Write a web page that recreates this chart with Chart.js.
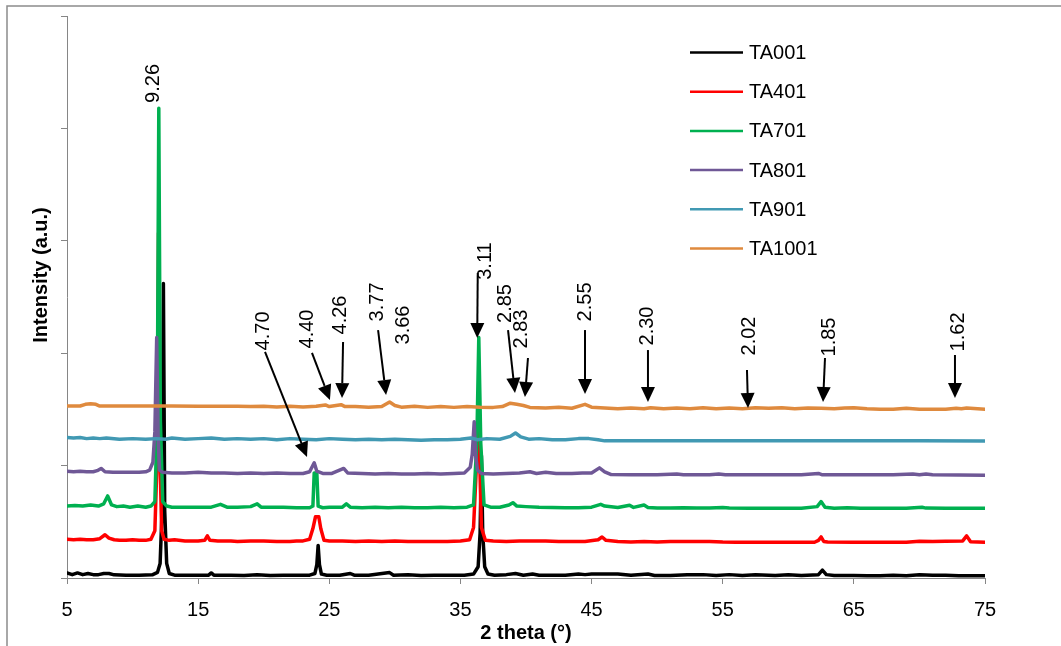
<!DOCTYPE html>
<html>
<head>
<meta charset="utf-8">
<script src="https://cdn.jsdelivr.net/npm/chart.js@4.4.1/dist/chart.umd.min.js"></script>
<style>
    body { margin: 0; background: #ffffff; }
    #wrap { width: 1061px; height: 646px; position: relative; }
</style>
</head>
<body>
<div id="wrap"><canvas id="xrdChart"></canvas></div>
<script>
// 2 theta ticks
const xTicks = [5, 15, 25, 35, 45, 55, 65, 75];

const seriesNames = ["TA001", "TA401", "TA701", "TA801", "TA901", "TA1001"];
const seriesColors = ["#000000", "#ff0000", "#00b050", "#6f5896", "#4199b3", "#df8a3e"];

// [2theta, intensity]
const ta001 = [
    [5, 45], [5.4, 30], [5.8, 45], [6.2, 30], [6.6, 40], [7, 30], [7.4, 30], [7.8, 40], [8.2, 40], [8.6, 28],
    [9.5, 25], [10.5, 25], [11.5, 28], [11.9, 50], [12.1, 130], [12.25, 600], [12.35, 2620], [12.45, 600],
    [12.6, 130], [12.8, 40], [13.2, 25], [14.5, 25], [15.8, 25], [16.0, 45], [16.2, 25], [17.5, 25], [18.5, 22],
    [19.5, 28], [20.5, 22], [21.5, 25], [22.5, 25], [23.5, 25], [23.9, 40], [24.05, 120], [24.15, 290],
    [24.25, 120], [24.4, 35], [24.8, 25], [25.8, 25], [26.6, 40], [26.9, 25], [28, 25], [29.6, 48], [29.9, 25],
    [31, 28], [32, 22], [33, 25], [34, 25], [35.3, 25], [36.0, 35], [36.35, 100], [36.5, 400], [36.6, 1090],
    [36.7, 400], [36.85, 100], [37.1, 35], [37.6, 25], [38.5, 30], [39.2, 40], [39.8, 25], [40.5, 35], [41, 25],
    [42, 25], [43, 25], [44.0, 35], [44.5, 30], [45, 35], [46, 35], [47, 35], [48, 25], [49.3, 35], [49.8, 22],
    [51, 22], [52.3, 30], [53.5, 30], [54.5, 22], [55.5, 30], [56.5, 22], [57.5, 28], [59, 22], [60, 28],
    [61, 22], [62.3, 30], [62.6, 70], [62.9, 30], [63.5, 22], [65, 22], [66, 20], [67, 20], [68, 25], [69, 20],
    [70, 28], [71, 25], [72, 25], [73, 20], [74, 20], [75, 20]
];

const ta401 = [
    [5, 345], [5.5, 340], [6, 345], [6.5, 340], [7, 340], [7.5, 350], [7.9, 385], [8.2, 355], [8.6, 340],
    [9, 335], [9.5, 335], [10, 340], [10.5, 335], [11, 335], [11.4, 345], [11.7, 420], [11.88, 1100],
    [11.98, 3070], [12.08, 1100], [12.22, 420], [12.4, 345], [12.8, 335], [13.2, 340], [14, 330], [15, 330],
    [15.5, 335], [15.7, 375], [15.9, 335], [16.5, 330], [17.5, 330], [18, 325], [19, 330], [20, 330], [21, 325],
    [22, 325], [22.5, 330], [23, 330], [23.5, 345], [23.75, 440], [23.95, 545], [24.2, 545], [24.35, 440],
    [24.6, 335], [25, 330], [26, 330], [27, 325], [28, 330], [29, 325], [30, 330], [31, 325], [32, 325],
    [33, 325], [34, 325], [35, 330], [35.7, 340], [36.0, 450], [36.22, 1000], [36.36, 1430], [36.48, 1000],
    [36.6, 450], [36.9, 335], [37.5, 330], [38.5, 325], [39.5, 330], [40.5, 330], [41.5, 330], [42.5, 325],
    [43.5, 325], [44.5, 325], [45.5, 340], [45.8, 365], [46.1, 335], [47, 325], [48, 320], [49, 325], [50, 320],
    [51, 325], [52, 325], [53, 325], [54, 325], [55, 320], [56, 318], [58, 318], [60, 318], [62, 318],
    [62.3, 335], [62.5, 365], [62.7, 325], [63, 320], [65, 318], [67, 318], [69, 318], [70, 328], [71, 325],
    [72, 328], [73.3, 330], [73.6, 375], [73.9, 322], [75, 318]
];

const ta701 = [
    [5, 640], [5.6, 645], [6.2, 640], [6.8, 650], [7.4, 640], [7.8, 660], [8.1, 730], [8.4, 650], [8.8, 635],
    [9.3, 640], [9.8, 630], [10.4, 640], [11, 630], [11.4, 640], [11.7, 680], [11.88, 1400], [12.0, 4180],
    [12.12, 1400], [12.3, 680], [12.6, 640], [13, 630], [14, 630], [15, 630], [16, 630], [16.7, 655],
    [17.2, 630], [18, 630], [19, 635], [19.5, 660], [19.8, 630], [20.5, 630], [21.5, 630], [22.5, 625],
    [23.5, 625], [23.75, 640], [23.85, 935], [24.05, 935], [24.15, 640], [24.5, 625], [25, 630], [26, 630],
    [26.3, 660], [26.6, 630], [27.5, 625], [28.5, 630], [29.5, 625], [30.5, 630], [31.5, 625], [32.5, 625],
    [33.5, 630], [34.5, 625], [35.5, 630], [36.0, 650], [36.25, 1200], [36.4, 2140], [36.55, 1200],
    [36.8, 650], [37.3, 630], [38, 630], [38.7, 650], [39.0, 670], [39.3, 640], [40, 635], [41, 630],
    [42, 628], [43, 625], [44, 625], [45, 630], [45.7, 655], [46, 640], [47, 628], [47.9, 648], [48.2, 628],
    [49.0, 650], [49.3, 628], [50, 622], [51, 622], [52, 625], [53, 622], [54, 622], [55, 628], [55.5, 622],
    [57, 620], [59, 620], [61, 620], [62.2, 635], [62.5, 680], [62.8, 630], [63.5, 620], [64.5, 625],
    [65.5, 620], [67, 620], [69, 620], [70.2, 630], [70.5, 622], [72, 620], [75, 620]
];

const ta801 = [
    [5, 950], [5.5, 945], [6, 950], [6.5, 945], [7, 945], [7.3, 955], [7.6, 975], [7.9, 945], [8.5, 940],
    [9.5, 940], [10.5, 940], [11.0, 945], [11.3, 960], [11.55, 1030], [11.7, 1300], [11.84, 2140],
    [11.95, 1250], [12.05, 960], [12.3, 940], [13, 935], [14, 935], [15, 940], [16, 935], [17, 935],
    [18, 930], [19, 935], [20, 930], [21, 935], [22, 930], [23, 930], [23.5, 945], [23.85, 1025],
    [24.05, 950], [24.5, 930], [25.2, 930], [26.1, 975], [26.4, 935], [27.5, 930], [28.5, 925], [29.5, 930],
    [30.5, 925], [31.5, 925], [32.5, 930], [33.5, 925], [34.5, 930], [35.3, 935], [35.75, 985], [35.9, 1100],
    [36.05, 1390], [36.15, 1100], [36.3, 960], [36.6, 930], [37.5, 925], [38.5, 930], [39.5, 935],
    [40.3, 945], [40.8, 930], [41.5, 940], [42.3, 930], [43.5, 930], [44.3, 935], [45, 935], [45.6, 980],
    [46, 945], [46.5, 920], [48, 918], [50, 918], [51.5, 925], [52, 918], [54, 918], [54.7, 925],
    [55.2, 918], [58, 918], [61, 918], [62.3, 930], [62.6, 918], [65, 918], [68, 918], [69.5, 925],
    [70, 918], [70.5, 925], [71, 918], [75, 915]
];

const ta901 = [
    [5, 1250], [5.5, 1245], [6, 1250], [6.5, 1240], [7, 1245], [7.5, 1240], [8, 1245], [9, 1235], [10, 1240],
    [11, 1235], [11.8, 1240], [12.5, 1235], [13, 1245], [14, 1235], [15, 1240], [16, 1245], [17, 1235],
    [18, 1240], [19, 1235], [20, 1240], [21, 1230], [22, 1240], [23, 1235], [24, 1230], [25, 1240],
    [26, 1235], [27, 1230], [28, 1235], [29, 1230], [30, 1235], [31, 1230], [32, 1225], [33, 1230],
    [34, 1230], [35, 1235], [35.8, 1245], [36.3, 1230], [37, 1240], [38, 1235], [38.8, 1260], [39.2, 1290],
    [39.6, 1255], [40.2, 1235], [41, 1240], [42, 1230], [43, 1230], [44, 1240], [44.8, 1240], [45.5, 1230],
    [46, 1220], [50, 1220], [60, 1220], [70, 1220], [75, 1219]
];

const ta1001 = [
    [5, 1530], [6, 1530], [6.4, 1545], [6.8, 1550], [7.2, 1545], [7.5, 1530], [9, 1530], [11, 1530],
    [13, 1530], [15, 1528], [18, 1528], [19, 1525], [20, 1528], [21, 1522], [22, 1528], [23, 1522],
    [24, 1528], [24.7, 1540], [25, 1525], [25.9, 1542], [26.2, 1525], [27, 1525], [28, 1520], [29, 1525],
    [29.6, 1565], [30, 1535], [30.5, 1520], [31.5, 1528], [32.5, 1518], [33.5, 1525], [34.5, 1518],
    [35.5, 1525], [36.5, 1520], [37.5, 1518], [38.2, 1525], [38.8, 1555], [39.3, 1545], [39.8, 1535],
    [40.3, 1518], [41.5, 1512], [42.5, 1520], [43.5, 1510], [44.5, 1545], [45, 1520], [46, 1512], [47, 1505],
    [48, 1512], [49, 1505], [49.5, 1515], [50.5, 1505], [51.5, 1512], [52.5, 1505], [53.5, 1515],
    [54.5, 1505], [55.5, 1512], [56.5, 1505], [57.5, 1515], [58.5, 1510], [59.5, 1515], [60.5, 1505],
    [61.5, 1512], [62.5, 1510], [63.5, 1505], [64.3, 1512], [65, 1515], [66, 1505], [67, 1502], [68, 1502],
    [69, 1510], [70, 1502], [72, 1502], [72.8, 1510], [73.2, 1505], [73.6, 1512], [75, 1502]
];

const allSeries = [ta001, ta401, ta701, ta801, ta901, ta1001];

// d-spacing labels: label centre and arrow in (2theta, intensity)
const peakNotes = [
    { text: "9.26", tx: 11.56, ty: 4400 },
    { text: "4.70", tx: 20.0, ty: 2198, from: [20.10, 2011], to: [23.30, 1077] },
    { text: "4.40", tx: 23.30, ty: 2215, from: [23.68, 2002], to: [25.05, 1584] },
    { text: "4.26", tx: 25.82, ty: 2340, from: [26.05, 2100], to: [25.97, 1601] },
    { text: "3.77", tx: 28.64, ty: 2456, from: [28.72, 2206], to: [29.33, 1628] },
    { text: "3.66", tx: 30.62, ty: 2251 },
    { text: "3.11", tx: 36.91, ty: 2820, from: [36.32, 2714], to: [36.28, 2135] },
    { text: "2.85", tx: 38.40, ty: 2442, from: [38.63, 2206], to: [39.16, 1646] },
    { text: "2.83", tx: 39.66, ty: 2215, from: [40.15, 1957], to: [39.92, 1610] },
    { text: "2.55", tx: 44.50, ty: 2456, from: [44.50, 2206], to: [44.50, 1637] },
    { text: "2.30", tx: 49.23, ty: 2242, from: [49.30, 2028], to: [49.30, 1566] },
    { text: "2.02", tx: 57.01, ty: 2153, from: [56.85, 1851], to: [56.93, 1512] },
    { text: "1.85", tx: 63.11, ty: 2144, from: [62.80, 1957], to: [62.65, 1566] },
    { text: "1.62", tx: 72.94, ty: 2189, from: [72.71, 1984], to: [72.71, 1601] }
];

const FONT = "'Liberation Sans', Arial, sans-serif";
const AXIS_GREY = "#868686";

// outer frame, y title, legend and the d-spacing arrows
const extrasPlugin = {
    id: "extras",
    beforeDraw: function (chart) {
        const ctx = chart.ctx;
        ctx.save();
        ctx.strokeStyle = "#8c8c8c";
        ctx.lineWidth = 1.5;
        ctx.strokeRect(7, 6, chart.width + 20, chart.height + 20);
        ctx.restore();
    },
    afterDraw: function (chart) {
        const ctx = chart.ctx;
        const xs = chart.scales.x;
        const ys = chart.scales.y;

        ctx.save();
        ctx.fillStyle = "#000";
        ctx.textAlign = "center";
        ctx.textBaseline = "middle";

        // y title
        ctx.save();
        ctx.translate(41, 275);
        ctx.rotate(-Math.PI / 2);
        ctx.font = "bold 20px " + FONT;
        ctx.fillText("Intensity (a.u.)", 0, 0);
        ctx.restore();

        // peak labels
        ctx.font = "20px " + FONT;
        peakNotes.forEach(function (n) {
            const px = xs.getPixelForValue(n.tx);
            const py = ys.getPixelForValue(n.ty);
            ctx.save();
            ctx.translate(px, py);
            ctx.rotate(-Math.PI / 2);
            ctx.fillText(n.text, 0, 0);
            ctx.restore();

            if (n.from) {
                const x0 = xs.getPixelForValue(n.from[0]);
                const y0 = ys.getPixelForValue(n.from[1]);
                const x1 = xs.getPixelForValue(n.to[0]);
                const y1 = ys.getPixelForValue(n.to[1]);
                const ang = Math.atan2(y1 - y0, x1 - x0);
                const headLen = 15, headW = 7;
                const bx = x1 - headLen * Math.cos(ang);
                const by = y1 - headLen * Math.sin(ang);
                ctx.strokeStyle = "#000";
                ctx.lineWidth = 2;
                ctx.beginPath();
                ctx.moveTo(x0, y0);
                ctx.lineTo(bx, by);
                ctx.stroke();
                ctx.beginPath();
                ctx.moveTo(x1, y1);
                ctx.lineTo(bx + headW * Math.sin(ang), by - headW * Math.cos(ang));
                ctx.lineTo(bx - headW * Math.sin(ang), by + headW * Math.cos(ang));
                ctx.closePath();
                ctx.fill();
            }
        });

        // legend
        ctx.textAlign = "left";
        chart.data.datasets.forEach(function (ds, i) {
            const rowY = 52.5 + i * 39.2;
            ctx.strokeStyle = ds.borderColor;
            ctx.lineWidth = 2.5;
            ctx.beginPath();
            ctx.moveTo(690, rowY);
            ctx.lineTo(743, rowY);
            ctx.stroke();
            ctx.fillStyle = "#000";
            ctx.fillText(ds.label, 749, rowY + 1);
        });
        ctx.restore();
    }
};

new Chart(
    document.getElementById("xrdChart"),
    {
        type: "line",
        data: {
            datasets: allSeries.map(function (pts, i) {
                return {
                    label: seriesNames[i],
                    data: pts.map(function (p) { return { x: p[0], y: p[1] }; }),
                    borderColor: seriesColors[i],
                    backgroundColor: seriesColors[i],
                    borderWidth: 3.5,
                    borderJoinStyle: "round",
                    borderCapStyle: "round",
                    pointRadius: 0,
                    tension: 0,
                    fill: false,
                    order: allSeries.length - i
                };
            })
        },
        options: {
            responsive: true,
            maintainAspectRatio: false,
            animation: false,
            layout: {
                padding: { left: 0, top: 16, right: 76, bottom: 0 }
            },
            plugins: {
                legend: { display: false },
                tooltip: { enabled: false }
            },
            scales: {
                x: {
                    type: "linear",
                    min: 5,
                    max: 75,
                    afterBuildTicks: function (scale) {
                        scale.ticks = xTicks.map(function (v) { return { value: v }; });
                    },
                    afterFit: function (scale) {
                        scale.height = 68;
                    },
                    grid: {
                        drawOnChartArea: false,
                        drawTicks: true,
                        tickLength: 6,
                        color: AXIS_GREY
                    },
                    border: { color: AXIS_GREY, width: 1 },
                    ticks: {
                        color: "#000",
                        padding: 14,
                        maxRotation: 0,
                        font: { family: FONT, size: 20 }
                    },
                    title: {
                        display: true,
                        text: "2 theta (°)",
                        color: "#000",
                        padding: { top: 0, bottom: 1 },
                        font: { family: FONT, size: 20, weight: "bold" }
                    }
                },
                y: {
                    min: 0,
                    max: 5000,
                    afterFit: function (scale) {
                        scale.width = 67;
                    },
                    grid: {
                        drawOnChartArea: false,
                        drawTicks: true,
                        tickLength: 6,
                        color: AXIS_GREY
                    },
                    border: { color: AXIS_GREY, width: 1 },
                    ticks: {
                        stepSize: 1000,
                        callback: function () { return ""; }
                    }
                }
            }
        },
        plugins: [extrasPlugin]
    }
);
</script>
</body>
</html>
